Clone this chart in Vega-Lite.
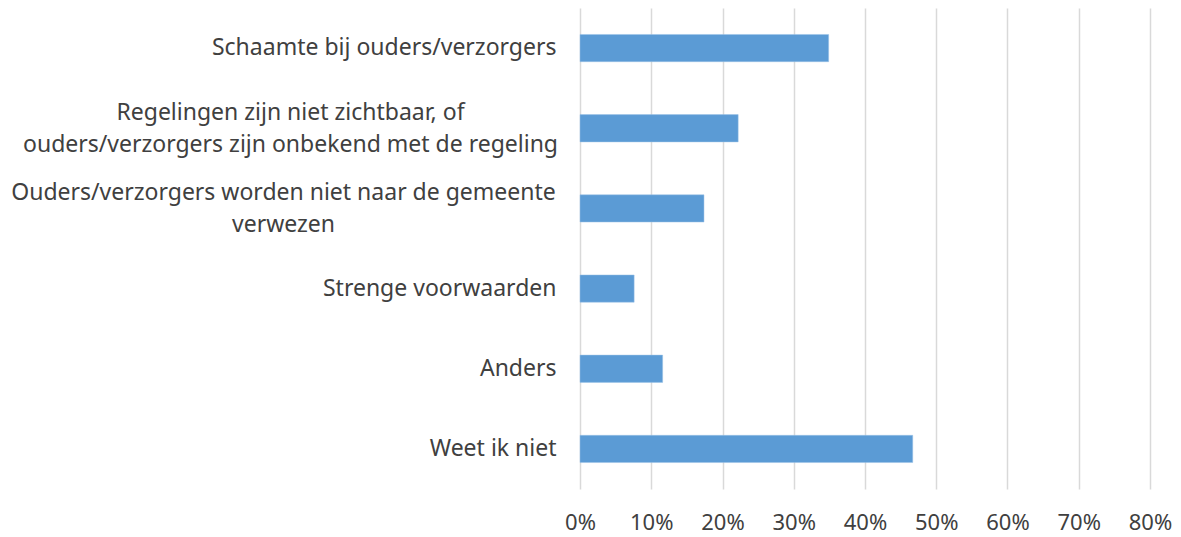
{
  "$schema": "https://vega.github.io/schema/vega-lite/v6.json",
  "autosize": "none",
  "width": 570,
  "height": 481,
  "padding": {"left": 580, "top": 8, "right": 31, "bottom": 48},
  "background": "white",
  "config": {"view": {"stroke": null}},
  "data": {
    "values": [
      {"reden": "Schaamte bij ouders/verzorgers", "pct": 0.349},
      {"reden": "Regelingen zijn niet zichtbaar, of|ouders/verzorgers zijn onbekend met de regeling", "pct": 0.222},
      {"reden": "Ouders/verzorgers worden niet naar de gemeente|verwezen", "pct": 0.174},
      {"reden": "Strenge voorwaarden", "pct": 0.076},
      {"reden": "Anders", "pct": 0.116},
      {"reden": "Weet ik niet", "pct": 0.467}
    ]
  },
  "mark": {"type": "bar", "color": "#5B9BD5", "stroke": "#9DC3E6", "strokeWidth": 0.5},
  "encoding": {
    "y": {
      "field": "reden",
      "type": "nominal",
      "sort": null,
      "scale": {"paddingInner": 0.66, "paddingOuter": 0.33},
      "axis": {
        "title": null,
        "ticks": false,
        "domain": false,
        "labelExpr": "split(datum.label, '|')",
        "labelFont": "Noto Sans",
        "labelFontSize": 23,
        "labelColor": "#404040",
        "labelLineHeight": 32,
        "labelLimit": 700,
        "labelAlign": {"condition": {"test": "indexof(datum.value, '|') >= 0", "value": "center"}, "value": "right"},
        "labelOffset": {"condition": {"test": "indexof(datum.value, '|') >= 0", "value": -15}, "value": 0},
        "labelPadding": {"condition": [
          {"test": "indexof(datum.value, 'Regelingen') == 0", "value": 290},
          {"test": "indexof(datum.value, 'Ouders/verzorgers worden') == 0", "value": 297}
        ], "value": 24}
      }
    },
    "x": {
      "field": "pct",
      "type": "quantitative",
      "scale": {"domain": [0, 0.8]},
      "axis": {
        "title": null,
        "format": ".0%",
        "values": [0, 0.1, 0.2, 0.3, 0.4, 0.5, 0.6, 0.7, 0.8],
        "ticks": false,
        "domain": false,
        "grid": true,
        "gridColor": "#D9D9D9",
        "gridWidth": 1.5,
        "labelFlush": false,
        "labelFont": "Noto Sans",
        "labelFontSize": 22,
        "labelColor": "#404040",
        "labelPadding": 23
      }
    }
  }
}
